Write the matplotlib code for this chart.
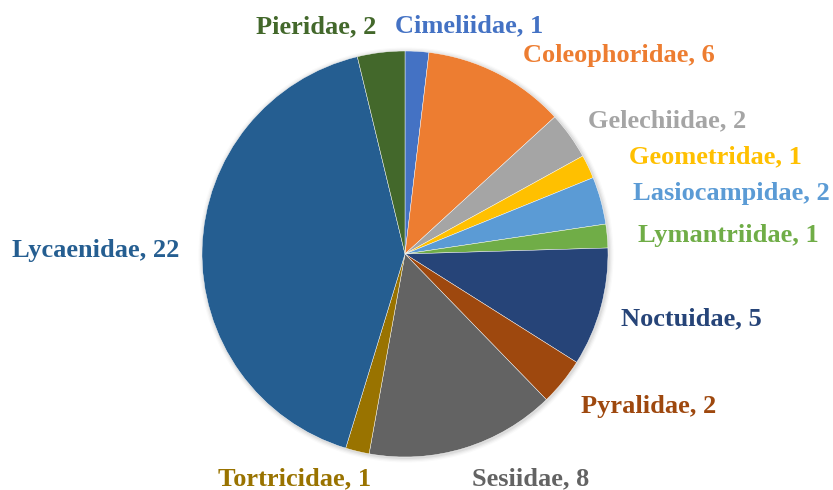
import matplotlib
matplotlib.use("Agg")
import matplotlib.pyplot as plt
from matplotlib.patches import Circle

families = ["Cimeliidae", "Coleophoridae", "Gelechiidae", "Geometridae", "Lasiocampidae",
            "Lymantriidae", "Noctuidae", "Pyralidae", "Sesiidae", "Tortricidae",
            "Lycaenidae", "Pieridae"]
counts = [1, 6, 2, 1, 2, 1, 5, 2, 8, 1, 22, 2]
colors = ["#4472C4", "#ED7D31", "#A5A5A5", "#FFC000", "#5B9BD5", "#70AD47",
          "#264478", "#9E480E", "#636363", "#997300", "#255E91", "#43682B"]

# label left edge / baseline positions in pixels (x, y from top)
label_px = [(395, 32), (523, 62), (588, 127), (629, 163), (633, 200), (638, 242),
            (621, 325), (581, 413), (472, 485), (218, 485), (12, 257), (256, 33)]

W, H = 833, 490
fig = plt.figure(figsize=(W / 100, H / 100), dpi=100)
ax = fig.add_axes([0, 0, 1, 1])

cx, cy, r = 405, H - 254, 203
# soft shadow around the pie
for i, a in enumerate([0.05, 0.04, 0.03, 0.02]):
    ax.add_patch(Circle((cx + 1, cy - 1), r + 1 + i * 1.2, color="black",
                        alpha=a, lw=0, zorder=0))
ax.pie(counts, colors=colors, startangle=90, counterclock=False,
       center=(cx, cy), radius=r, frame=True,
       wedgeprops=dict(linewidth=0.3, edgecolor="white", zorder=2))
ax.set_xlim(0, W)
ax.set_ylim(0, H)
ax.set_aspect("equal")
ax.axis("off")

for name, n, col, (px, py) in zip(families, counts, colors, label_px):
    ax.text(px, H - py, f"{name}, {n}", color=col, ha="left", va="baseline",
            fontsize=19, fontweight="bold", family="Liberation Serif")

fig.savefig("out.png", dpi=100)
